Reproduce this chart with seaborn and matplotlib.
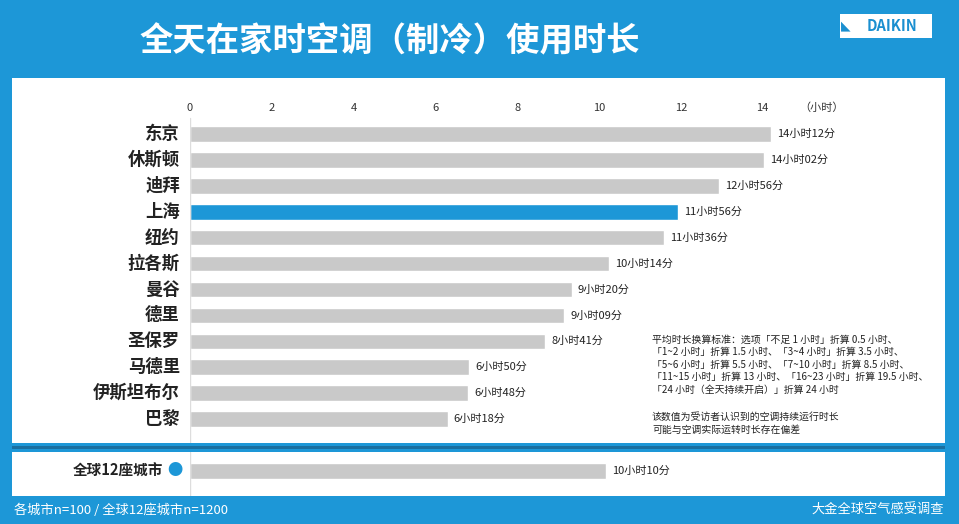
import numpy as np
import pandas as pd
import matplotlib
matplotlib.use("Agg")
import matplotlib.pyplot as plt
import matplotlib.patches as mpatches
import seaborn as sns

cities = ["东京", "休斯顿", "迪拜", "上海", "纽约", "拉各斯", "曼谷", "德里", "圣保罗", "马德里", "伊斯坦布尔", "巴黎"]
hours = [14 + 12/60, 14 + 2/60, 12 + 56/60, 11 + 56/60, 11 + 36/60, 10 + 14/60,
         9 + 20/60, 9 + 9/60, 8 + 41/60, 6 + 50/60, 6 + 48/60, 6 + 18/60]
labels = ["14小时12分", "14小时02分", "12小时56分", "11小时56分", "11小时36分", "10小时14分",
          "9小时20分", "9小时09分", "8小时41分", "6小时50分", "6小时48分", "6小时18分"]
global_name = "全球12座城市"
global_hours = 10 + 10/60
global_label = "10小时10分"
ticks = [0, 2, 4, 6, 8, 10, 12, 14]

sns.set_theme(style="white")
plt.rcParams['font.family'] = ['Noto Sans CJK SC', 'DejaVu Sans']

BLUE = "#1d97d7"
GREY = "#c9c9c9"
W, H = 959, 524
fig = plt.figure(figsize=(W/100, H/100), dpi=100)
fig.patch.set_facecolor(BLUE)

def fx(px): return px / W
def fy(py): return 1 - py / H

# white panels
fig.patches.append(mpatches.Rectangle((fx(12), fy(443)), fx(933), 365/H, transform=fig.transFigure,
                                      facecolor="white", edgecolor="none", zorder=0))
fig.patches.append(mpatches.Rectangle((fx(12), fy(496)), fx(933), 44/H, transform=fig.transFigure,
                                      facecolor="white", edgecolor="none", zorder=0))
fig.patches.append(mpatches.Rectangle((fx(12), fy(449)), fx(933), 3/H, transform=fig.transFigure,
                                      facecolor="#1a6fa0", edgecolor="none", zorder=0))

x_max = (945 - 190) / 40.9
df = pd.DataFrame({"city": cities, "hours": hours})
palette = {c: (BLUE if c == "上海" else GREY) for c in cities}

ax = fig.add_axes([fx(190), fy(443), fx(945 - 190), 365/H])
ax.set_zorder(3)
ax.patch.set_alpha(0)
sns.barplot(data=df, x="hours", y="city", hue="city", palette=palette, legend=False,
            width=0.6, ax=ax, saturation=1)
ax.set_xlim(0, x_max)
ax.set_ylim(11 + 24/25.9, -56/25.9)
for s in ax.spines.values():
    s.set_visible(False)
ax.axvline(0, ymin=0, ymax=1 - 40/365, color="#dddddd", lw=1)
ax.set_xticks([]); ax.set_yticks([])
ax.set_xlabel(""); ax.set_ylabel("")
for t in ticks:
    ax.text(t, -1.0, str(t), ha="center", va="center", fontsize=8, color="#333333")
ax.text(14.9, -1.0, "（小时）", ha="left", va="center", fontsize=8, color="#333333")
for i, (c, v, l) in enumerate(zip(cities, hours, labels)):
    ax.text(-0.25, i, c, ha="right", va="center", fontsize=12.5, fontweight="bold", color="#222222")
    ax.text(v + 0.15, i, l, ha="left", va="center", fontsize=8, color="#222222")

note = ("平均时长换算标准：选项「不足 1 小时」折算 0.5 小时、\n"
        "「1~2 小时」折算 1.5 小时、「3~4 小时」折算 3.5 小时、\n"
        "「5~6 小时」折算 5.5 小时、「7~10 小时」折算 8.5 小时、\n"
        "「11~15 小时」折算 13 小时、「16~23 小时」折算 19.5 小时、\n"
        "「24 小时（全天持续开启）」折算 24 小时")
fig.text(fx(652), fy(335), note, ha="left", va="top", fontsize=7.1, color="#222222", linespacing=1.3)
fig.text(fx(652), fy(412), "该数值为受访者认识到的空调持续运行时长\n可能与空调实际运转时长存在偏差",
         ha="left", va="top", fontsize=7.1, color="#222222", linespacing=1.3)

# global panel
gdf = pd.DataFrame({"city": [global_name], "hours": [global_hours]})
ax2 = fig.add_axes([fx(190), fy(496), fx(945 - 190), 44/H])
ax2.set_zorder(3)
ax2.patch.set_alpha(0)
sns.barplot(data=gdf, x="hours", y="city", color=GREY, width=0.6, ax=ax2, saturation=1)
ax2.set_xlim(0, x_max)
ax2.set_ylim(25/25.9, -19/25.9)
for s in ax2.spines.values():
    s.set_visible(False)
ax2.axvline(0, color="#dddddd", lw=1)
ax2.set_xticks([]); ax2.set_yticks([])
ax2.set_xlabel(""); ax2.set_ylabel("")
ax2.text(-0.65, 0, global_name, ha="right", va="center", fontsize=10.5, fontweight="bold", color="#222222")
ax2.text(-0.38, 0, "●", ha="center", va="center", fontsize=11, color=BLUE)
ax2.text(global_hours + 0.15, 0, global_label, ha="left", va="center", fontsize=8, color="#222222")

# title, logo, footer
fig.text(fx(140), fy(42), "全天在家时空调（制冷）使用时长", ha="left", va="center",
         fontsize=24, fontweight="bold", color="white")
fig.patches.append(mpatches.Rectangle((fx(840), fy(38)), fx(92), 24/H, transform=fig.transFigure,
                                      facecolor="white", edgecolor="none"))
fig.text(fx(892), fy(26), "DAIKIN", ha="center", va="center", fontsize=10.5,
         fontweight="bold", fontstyle="italic", color="#1a8fd0")
fig.text(fx(846), fy(26), "◣", ha="center", va="center", fontsize=9, color="#1a8fd0",
         family=['DejaVu Sans'])
fig.text(fx(14), fy(510), "各城市n=100 / 全球12座城市n=1200", ha="left", va="center",
         fontsize=9.5, color="white")
fig.text(fx(944), fy(510), "大金全球空气感受调查", ha="right", va="center", fontsize=9.5, color="white")

fig.savefig("out.png", dpi=100, facecolor=fig.get_facecolor())
